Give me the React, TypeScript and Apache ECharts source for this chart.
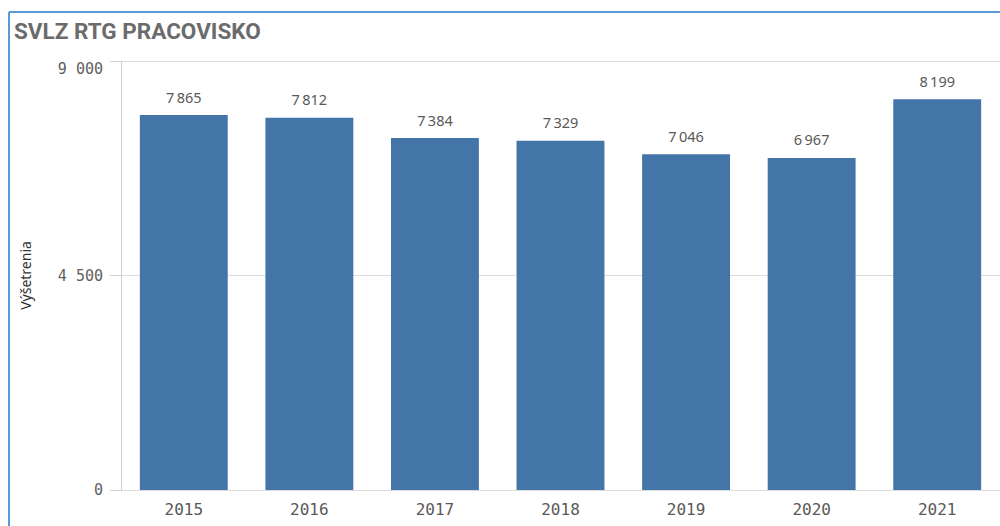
import React, { useEffect, useRef } from "react";
import * as echarts from "echarts";

const categories = ["2015", "2016", "2017", "2018", "2019", "2020", "2021"];
const values = [7865, 7812, 7384, 7329, 7046, 6967, 8199];
const yTicks = [0, 4500, 9000];

const fmt = (v: number) => String(v).replace(/\B(?=(\d{3})+(?!\d))/g, "\u2009");

export default function App() {
  const ref = useRef<HTMLDivElement>(null);
  useEffect(() => {
    const chart = echarts.init(ref.current!, null, { renderer: "svg" });
    chart.setOption({
      animation: false,
      backgroundColor: "#fff",
      grid: { left: 121, top: 61, width: 882, height: 429, containLabel: false },
      graphic: [
        { type: "line", shape: { x1: 9, y1: 12, x2: 1000, y2: 12 }, style: { stroke: "#5b9bd5", lineWidth: 2 } },
        { type: "line", shape: { x1: 9, y1: 12, x2: 9, y2: 526 }, style: { stroke: "#5b9bd5", lineWidth: 2 } },
        {
          type: "text",
          left: 14,
          top: 19,
          style: { text: "SVLZ RTG PRACOVISKO", font: "bold 22.5px Roboto", fill: "#6b6b6b" },
        },
      ],
      xAxis: {
        type: "category",
        data: categories,
        axisLine: { show: false },
        axisTick: { show: false },
        axisLabel: { margin: 11, color: "#595959", fontFamily: "DejaVu Sans Mono", fontSize: 16 },
      },
      yAxis: {
        type: "value",
        min: 0,
        max: 9000,
        interval: 4500,
        name: "Výšetrenia",
        nameLocation: "middle",
        nameGap: 89,
        nameTextStyle: { color: "#333", fontFamily: "Noto Sans", fontSize: 14 },
        axisLine: { show: true, lineStyle: { color: "#d0d0d0", width: 1 } },
        axisTick: { show: true, length: 11, lineStyle: { color: "#d0d0d0" } },
        axisLabel: {
          margin: 18,
          color: "#5f5f5f",
          fontFamily: "DejaVu Sans Mono",
          fontSize: 15,
          verticalAlignMaxLabel: "top",
          formatter: (v: number) => (yTicks.includes(v) ? fmt(v) : ""),
        },
        splitLine: { lineStyle: { color: "#dcdcdc", width: 1 } },
      },
      series: [
        {
          type: "bar",
          data: values,
          barWidth: "70%",
          itemStyle: { color: "#4475a8" },
          label: {
            show: true,
            position: "top",
            distance: 11,
            color: "#595959",
            fontFamily: "Noto Sans",
            fontSize: 14.5,
            formatter: (p: any) => fmt(p.value),
          },
        },
      ],
    });
    return () => chart.dispose();
  }, []);
  return (
    <div style={{ position: "absolute", left: 0, top: 0, width: 1000, height: 526 }}>
      <div ref={ref} style={{ width: 1000, height: 526 }} />
    </div>
  );
}
